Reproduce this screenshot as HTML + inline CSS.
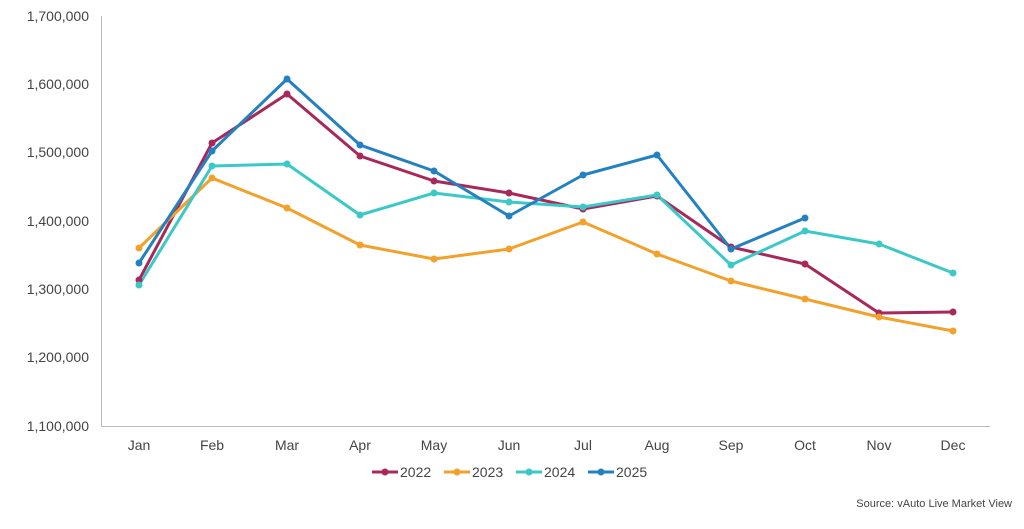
<!DOCTYPE html>
<html><head><meta charset="utf-8"><style>
body{margin:0;background:#fff;}
svg{display:block;font-family:"Liberation Sans",Arial,sans-serif;}
</style></head><body>
<svg width="1024" height="529" viewBox="0 0 1024 529">
<g font-size="14" fill="#444" text-anchor="end">
<text x="89" y="21">1,700,000</text>
<text x="89" y="89">1,600,000</text>
<text x="89" y="157">1,500,000</text>
<text x="89" y="226">1,400,000</text>
<text x="89" y="294">1,300,000</text>
<text x="89" y="362">1,200,000</text>
<text x="89" y="431">1,100,000</text>
</g>
<line x1="101.5" y1="16" x2="101.5" y2="426" stroke="#bbb"/>
<line x1="101" y1="426.5" x2="990" y2="426.5" stroke="#bbb"/>
<g font-size="14" fill="#444" text-anchor="middle">
<text x="139" y="450">Jan</text><text x="212" y="450">Feb</text><text x="287" y="450">Mar</text>
<text x="360" y="450">Apr</text><text x="434" y="450">May</text><text x="509" y="450">Jun</text>
<text x="583" y="450">Jul</text><text x="657" y="450">Aug</text><text x="731" y="450">Sep</text>
<text x="805" y="450">Oct</text><text x="879" y="450">Nov</text><text x="953" y="450">Dec</text>
</g>
<g fill="none" stroke-width="3" stroke-linejoin="round">
<polyline stroke="#A8285A" points="139,280 212,143 287,94 360,156 434,181 509,193 583,209 657,196 731,247 805,264 879,313 953,312"/>
<polyline stroke="#F2A22C" points="139,248 212,178 287,208 360,245 434,259 509,249 583,222 657,254 731,281 805,299 879,317 953,331"/>
<polyline stroke="#3CC8C8" points="139,285 212,166 287,164 360,215 434,193 509,202 583,207 657,195 731,265 805,231 879,244 953,273"/>
<polyline stroke="#2481C1" points="139,263 212,151 287,79 360,145 434,171 509,216 583,175 657,155 731,249 805,218"/>
</g>
<g fill="#A8285A"><circle cx="139" cy="280" r="3.5"/><circle cx="212" cy="143" r="3.5"/><circle cx="287" cy="94" r="3.5"/><circle cx="360" cy="156" r="3.5"/><circle cx="434" cy="181" r="3.5"/><circle cx="509" cy="193" r="3.5"/><circle cx="583" cy="209" r="3.5"/><circle cx="657" cy="196" r="3.5"/><circle cx="731" cy="247" r="3.5"/><circle cx="805" cy="264" r="3.5"/><circle cx="879" cy="313" r="3.5"/><circle cx="953" cy="312" r="3.5"/></g>
<g fill="#F2A22C"><circle cx="139" cy="248" r="3.5"/><circle cx="212" cy="178" r="3.5"/><circle cx="287" cy="208" r="3.5"/><circle cx="360" cy="245" r="3.5"/><circle cx="434" cy="259" r="3.5"/><circle cx="509" cy="249" r="3.5"/><circle cx="583" cy="222" r="3.5"/><circle cx="657" cy="254" r="3.5"/><circle cx="731" cy="281" r="3.5"/><circle cx="805" cy="299" r="3.5"/><circle cx="879" cy="317" r="3.5"/><circle cx="953" cy="331" r="3.5"/></g>
<g fill="#3CC8C8"><circle cx="139" cy="285" r="3.5"/><circle cx="212" cy="166" r="3.5"/><circle cx="287" cy="164" r="3.5"/><circle cx="360" cy="215" r="3.5"/><circle cx="434" cy="193" r="3.5"/><circle cx="509" cy="202" r="3.5"/><circle cx="583" cy="207" r="3.5"/><circle cx="657" cy="195" r="3.5"/><circle cx="731" cy="265" r="3.5"/><circle cx="805" cy="231" r="3.5"/><circle cx="879" cy="244" r="3.5"/><circle cx="953" cy="273" r="3.5"/></g>
<g fill="#2481C1"><circle cx="139" cy="263" r="3.5"/><circle cx="212" cy="151" r="3.5"/><circle cx="287" cy="79" r="3.5"/><circle cx="360" cy="145" r="3.5"/><circle cx="434" cy="171" r="3.5"/><circle cx="509" cy="216" r="3.5"/><circle cx="583" cy="175" r="3.5"/><circle cx="657" cy="155" r="3.5"/><circle cx="731" cy="249" r="3.5"/><circle cx="805" cy="218" r="3.5"/></g>
<g stroke-width="3" font-size="14" fill="#444">
<line x1="372" y1="472" x2="398" y2="472" stroke="#A8285A"/><circle cx="385" cy="472" r="3.5" fill="#A8285A"/><text x="400" y="477">2022</text>
<line x1="444" y1="472" x2="470" y2="472" stroke="#F2A22C"/><circle cx="457" cy="472" r="3.5" fill="#F2A22C"/><text x="472" y="477">2023</text>
<line x1="516" y1="472" x2="542" y2="472" stroke="#3CC8C8"/><circle cx="529" cy="472" r="3.5" fill="#3CC8C8"/><text x="544" y="477">2024</text>
<line x1="588" y1="472" x2="614" y2="472" stroke="#2481C1"/><circle cx="601" cy="472" r="3.5" fill="#2481C1"/><text x="616" y="477">2025</text>
</g>
<text x="1012" y="507" font-size="11" fill="#444" text-anchor="end">Source: vAuto Live Market View</text>
</svg>
</body></html>
